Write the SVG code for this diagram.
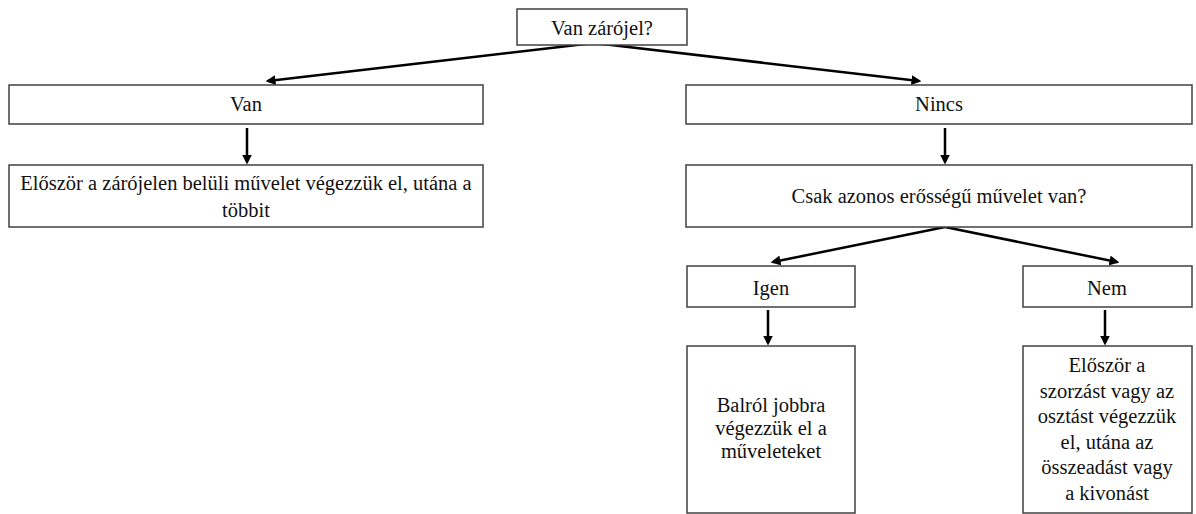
<svg xmlns="http://www.w3.org/2000/svg" width="1196" height="514" viewBox="0 0 1196 514">
<style>
.box{fill:#fff;stroke:#404040;stroke-width:1.5}
.t{font-family:"Liberation Serif","Times New Roman",serif;font-size:20.5px;fill:#111;text-anchor:middle}
.c{stroke:#000;stroke-width:2.5;fill:none;marker-end:url(#ah)}
</style>
<defs>
<marker id="ah" markerWidth="4" markerHeight="4" refX="3" refY="2" orient="auto" markerUnits="strokeWidth">
<path d="M0,0 L4,2 L0,4 Z" fill="#000"/>
</marker>
</defs>
<rect width="1196" height="514" fill="#fff"/>
<g id="connectors">
<line class="c" x1="594" y1="43" x2="268" y2="81"/>
<line class="c" x1="594" y1="43" x2="919" y2="81"/>
<line class="c" x1="247" y1="128" x2="247" y2="162"/>
<line class="c" x1="945" y1="128" x2="945" y2="162"/>
<line class="c" x1="945" y1="227" x2="773" y2="262"/>
<line class="c" x1="945" y1="227" x2="1117" y2="262"/>
<line class="c" x1="768" y1="310" x2="768" y2="343"/>
<line class="c" x1="1105" y1="310" x2="1105" y2="343"/>
</g>
<g id="n-root"><rect class="box" x="517" y="9" width="170" height="36"/><text class="t" x="602" y="35">Van zárójel?</text></g>
<g id="n-van"><rect class="box" x="9" y="85" width="474" height="39"/><text class="t" x="246" y="111">Van</text></g>
<g id="n-van-act"><rect class="box" x="9" y="165" width="474" height="62"/><text class="t" x="246" y="190">Először a zárójelen belüli művelet végezzük el, utána a</text><text class="t" x="246" y="217">többit</text></g>
<g id="n-nincs"><rect class="box" x="686" y="85" width="506" height="39"/><text class="t" x="939" y="111">Nincs</text></g>
<g id="n-csak"><rect class="box" x="686" y="165" width="506" height="62"/><text class="t" x="939" y="203">Csak azonos erősségű művelet van?</text></g>
<g id="n-igen"><rect class="box" x="687" y="266" width="168" height="41"/><text class="t" x="771" y="295">Igen</text></g>
<g id="n-nem"><rect class="box" x="1023" y="266" width="169" height="41"/><text class="t" x="1107" y="295">Nem</text></g>
<g id="n-igen-act"><rect class="box" x="687" y="346" width="168" height="167"/><text class="t" x="771" y="412">Balról jobbra</text><text class="t" x="771" y="435">végezzük el a</text><text class="t" x="771" y="458">műveleteket</text></g>
<g id="n-nem-act"><rect class="box" x="1023" y="346" width="169" height="167"/><text class="t" x="1107" y="372">Először a</text><text class="t" x="1107" y="398">szorzást vagy az</text><text class="t" x="1107" y="423">osztást végezzük</text><text class="t" x="1107" y="449">el, utána az</text><text class="t" x="1107" y="474">összeadást vagy</text><text class="t" x="1107" y="500">a kivonást</text></g>
</svg>
